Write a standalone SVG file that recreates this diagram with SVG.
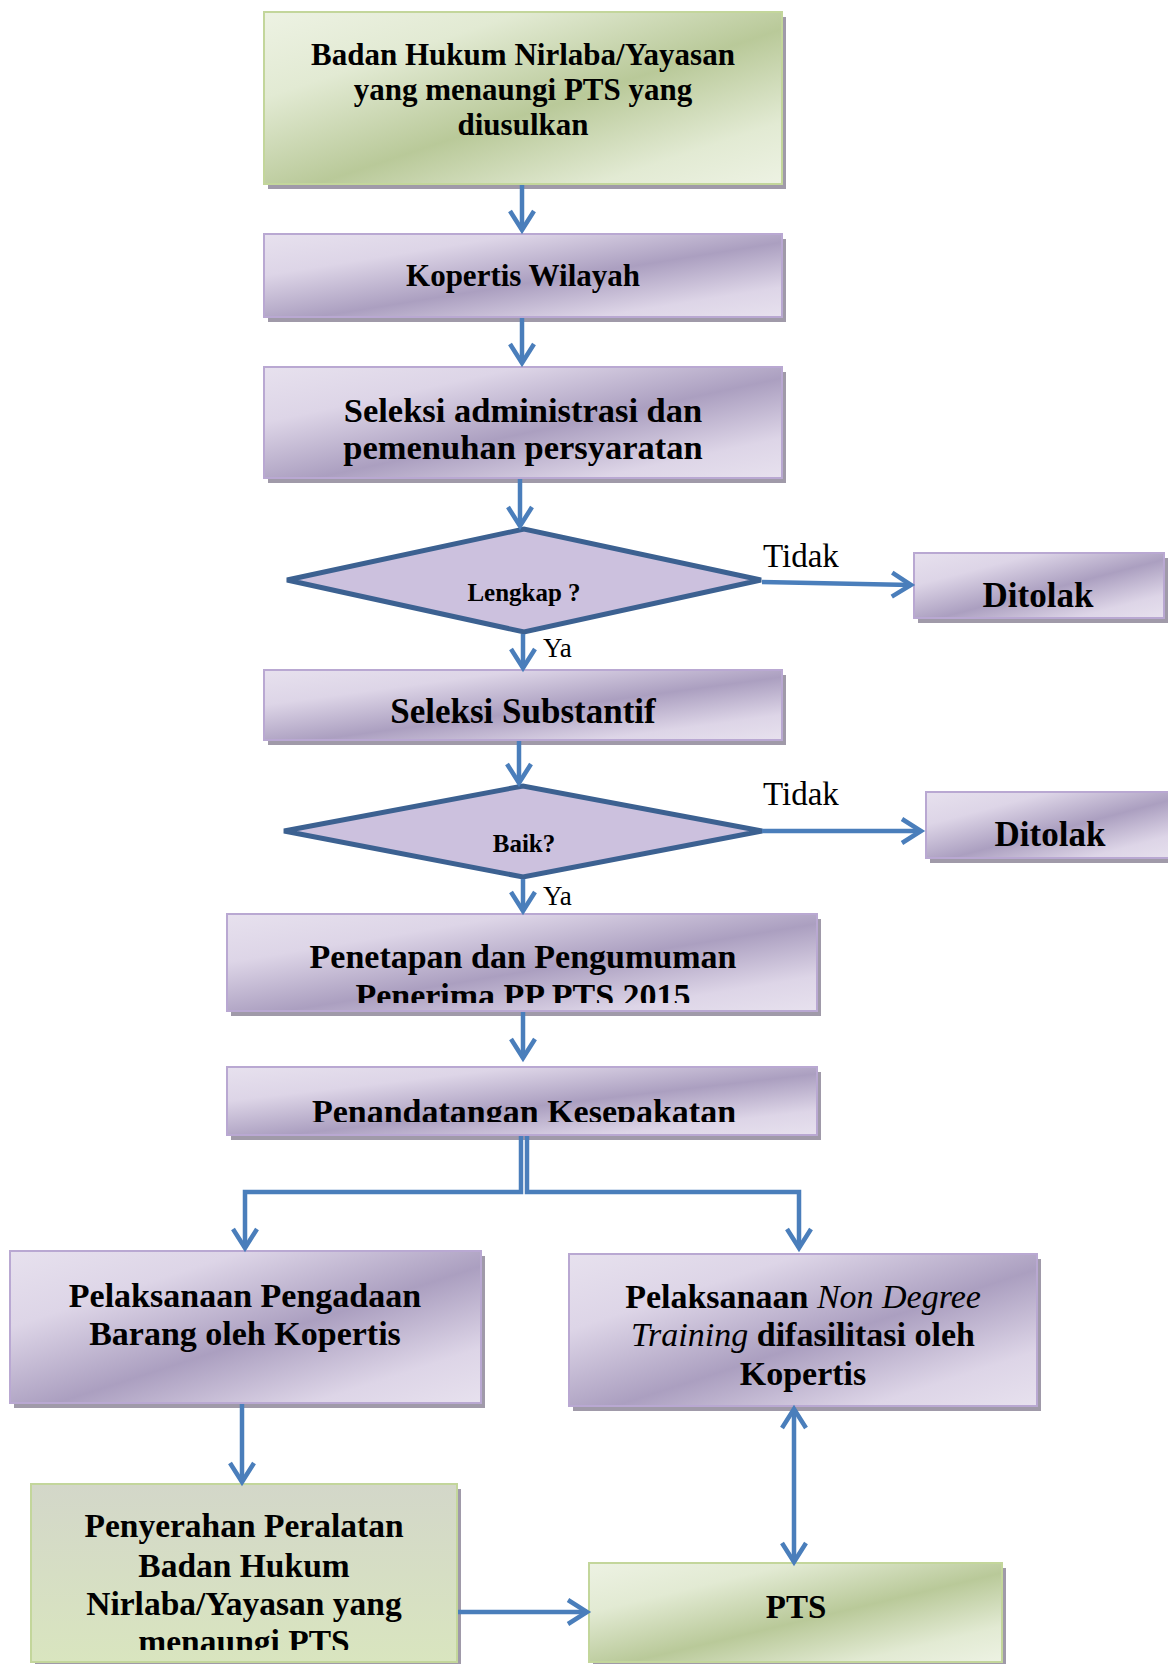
<svg xmlns="http://www.w3.org/2000/svg" width="1168" height="1664" viewBox="0 0 1168 1664">
<defs>
<linearGradient id="gp" x1="0" y1="0" x2="1" y2="1">
<stop offset="0" stop-color="#e7e1ee"/>
<stop offset="0.25" stop-color="#ddd5e7"/>
<stop offset="0.55" stop-color="#ab9fc0"/>
<stop offset="0.82" stop-color="#ddd5e7"/>
<stop offset="1" stop-color="#e7e1ee"/>
</linearGradient>
<linearGradient id="gg" x1="0" y1="0" x2="1" y2="1">
<stop offset="0" stop-color="#edf2e3"/>
<stop offset="0.25" stop-color="#e2ead3"/>
<stop offset="0.55" stop-color="#b9c999"/>
<stop offset="0.82" stop-color="#e2ead3"/>
<stop offset="1" stop-color="#edf2e3"/>
</linearGradient>
<linearGradient id="gv" x1="0" y1="0" x2="0" y2="1">
<stop offset="0" stop-color="#d3d7c9"/>
<stop offset="1" stop-color="#d9e5bf"/>
</linearGradient>
<marker id="ah" markerUnits="userSpaceOnUse" markerWidth="32" markerHeight="32" viewBox="-24 -16 28 32" refX="0" refY="0" orient="auto-start-reverse">
<path d="M -19 -12 L 0 0 L -19 12" fill="none" stroke="#4a7ebb" stroke-width="4.5"/>
</marker>
<clipPath id="c1"><rect x="0" y="900" width="1168" height="103"/></clipPath>
<clipPath id="c2"><rect x="0" y="1060" width="1168" height="62"/></clipPath>
<clipPath id="c3"><rect x="0" y="1480" width="1168" height="170"/></clipPath>
</defs>
<style>
.sh{fill:#a09aa9}
.bp{fill:url(#gp);stroke:#b9a8d2;stroke-width:2}
.bg{fill:url(#gg);stroke:#c3d69b;stroke-width:2}
.bv{fill:url(#gv);stroke:#c3d69b;stroke-width:2}
.dm{fill:#ccc1de;stroke:#3c6191;stroke-width:5;stroke-linejoin:miter}
.t{font-family:"Liberation Serif","DejaVu Serif",serif;font-weight:bold;fill:#000;text-anchor:middle}
.r{font-family:"Liberation Serif","DejaVu Serif",serif;fill:#000}
.c{fill:none;stroke:#4a7ebb;stroke-width:4.5}
.a{marker-end:url(#ah)}
</style>

<g id="n1">
<rect class="sh" x="268" y="17" width="518" height="172"/>
<rect class="bg" x="264" y="12" width="518" height="172"/>
<text class="t" font-size="31" x="523" y="65">Badan Hukum Nirlaba/Yayasan</text>
<text class="t" font-size="31" x="523" y="100">yang menaungi PTS yang</text>
<text class="t" font-size="31" x="523" y="135">diusulkan</text>
</g>
<g id="n2">
<rect class="sh" x="268" y="239" width="518" height="83"/>
<rect class="bp" x="264" y="234" width="518" height="83"/>
<text class="t" font-size="31" x="523" y="286">Kopertis Wilayah</text>
</g>
<g id="n3">
<rect class="sh" x="268" y="372" width="518" height="111"/>
<rect class="bp" x="264" y="367" width="518" height="111"/>
<text class="t" font-size="34.5" x="523" y="422">Seleksi administrasi dan</text>
<text class="t" font-size="34.5" x="523" y="459">pemenuhan persyaratan</text>
</g>
<g id="d1">
<polygon class="dm" points="287,580 524,529 761,580 524,632"/>
<text class="t" font-size="25" x="524" y="601">Lengkap ?</text>
</g>
<g id="x1">
<rect class="sh" x="918" y="558" width="250" height="65"/>
<rect class="bp" x="914" y="553" width="250" height="65"/>
<text class="t" font-size="35" x="1038" y="607">Ditolak</text>
</g>
<g id="n4">
<rect class="sh" x="268" y="675" width="518" height="70"/>
<rect class="bp" x="264" y="670" width="518" height="70"/>
<text class="t" font-size="35" x="523" y="723">Seleksi Substantif</text>
</g>
<g id="d2">
<polygon class="dm" points="284,831 523,786 762,831 523,877"/>
<text class="t" font-size="25" x="524" y="852">Baik?</text>
</g>
<g id="x2">
<rect class="sh" x="930" y="797" width="250" height="66"/>
<rect class="bp" x="926" y="792" width="250" height="66"/>
<text class="t" font-size="35" x="1050" y="846">Ditolak</text>
</g>
<g id="n5">
<rect class="sh" x="231" y="919" width="590" height="97"/>
<rect class="bp" x="227" y="914" width="590" height="97"/>
<text class="t" font-size="34" x="523" y="968">Penetapan dan Pengumuman</text>
<text class="t" font-size="34" x="523" y="1007" clip-path="url(#c1)">Penerima PP PTS 2015</text>
</g>
<g id="n6">
<rect class="sh" x="231" y="1072" width="590" height="68"/>
<rect class="bp" x="227" y="1067" width="590" height="68"/>
<text class="t" font-size="34" x="524" y="1123" clip-path="url(#c2)">Penandatangan Kesepakatan</text>
</g>
<g id="n7">
<rect class="sh" x="14" y="1256" width="471" height="152"/>
<rect class="bp" x="10" y="1251" width="471" height="152"/>
<text class="t" font-size="34" x="245" y="1307">Pelaksanaan Pengadaan</text>
<text class="t" font-size="34" x="245" y="1345">Barang oleh Kopertis</text>
</g>
<g id="n8">
<rect class="sh" x="573" y="1259" width="468" height="152"/>
<rect class="bp" x="569" y="1254" width="468" height="152"/>
<text class="t" font-size="34" x="803" y="1308">Pelaksanaan <tspan font-style="italic" font-weight="normal">Non Degree</tspan></text>
<text class="t" font-size="34" x="803" y="1346"><tspan font-style="italic" font-weight="normal">Training</tspan> difasilitasi oleh</text>
<text class="t" font-size="34" x="803" y="1385">Kopertis</text>
</g>
<g id="n9">
<rect class="sh" x="35" y="1489" width="426" height="178"/>
<rect class="bv" x="31" y="1484" width="426" height="178"/>
<g clip-path="url(#c3)">
<text class="t" font-size="33.5" x="244" y="1537">Penyerahan Peralatan</text>
<text class="t" font-size="33.5" x="244" y="1577">Badan Hukum</text>
<text class="t" font-size="33.5" x="244" y="1615">Nirlaba/Yayasan yang</text>
<text class="t" font-size="33.5" x="244" y="1653">menaungi PTS</text>
</g>
</g>
<g id="n10">
<rect class="sh" x="593" y="1568" width="413" height="99"/>
<rect class="bg" x="589" y="1563" width="413" height="99"/>
<text class="t" font-size="33" x="796" y="1618">PTS</text>
</g>

<g id="connectors">
<path class="c a" d="M522 185 V230"/>
<path class="c a" d="M522 318 V363"/>
<path class="c a" d="M520 479 V526"/>
<path class="c a" d="M762 582 L911 585"/>
<path class="c a" d="M523 634 V668"/>
<path class="c a" d="M519 741 V783"/>
<path class="c a" d="M762 831 H921"/>
<path class="c a" d="M523 879 V911"/>
<path class="c a" d="M523 1012 V1058"/>
<path class="c a" d="M521 1136 V1192 H245 V1248"/>
<path class="c a" d="M527 1136 V1192 H799 V1248"/>
<path class="c a" d="M242 1404 V1482"/>
<path class="c a" d="M794 1409 V1562" marker-start="url(#ah)"/>
<path class="c a" d="M458 1612 H587"/>
<text class="r" font-size="33" x="763" y="567">Tidak</text>
<text class="r" font-size="33" x="763" y="805">Tidak</text>
<text class="r" font-size="27" x="543" y="657">Ya</text>
<text class="r" font-size="27" x="543" y="905">Ya</text>
</g>
</svg>
